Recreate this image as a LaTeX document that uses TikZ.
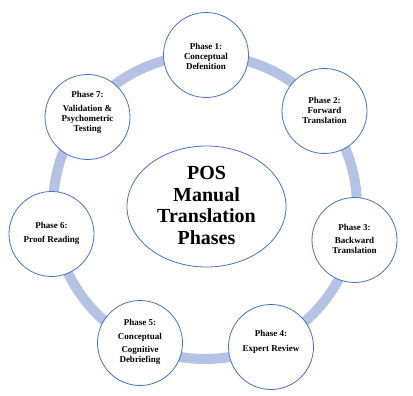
\documentclass[tikz,border=0pt]{standalone}
\usepackage{fontspec}
\setmainfont{Liberation Serif}
\usetikzlibrary{shapes.geometric}
\definecolor{ringc}{HTML}{B4C2E4}
\definecolor{edgec}{HTML}{4472C4}
\tikzset{
  ringband/.style={draw=ringc, line width=10pt},
  phasecircle/.style={circle, draw=edgec, line width=0.8pt, fill=white, minimum size=85pt, inner sep=0pt},
  phasetext/.style={align=center, font=\fontsize{9}{10}\selectfont\bfseries, inner sep=0pt},
  hubshape/.style={ellipse, draw=edgec, line width=0.8pt, fill=white, minimum width=159pt, minimum height=121pt, inner sep=0pt},
  hubtext/.style={align=center, font=\fontsize{20}{21.5}\selectfont\bfseries, inner sep=0pt}
}
\begin{document}
\begin{tikzpicture}[x=1pt, y=-1pt]
\useasboundingbox (0,0) rectangle (413,396);
\coordinate (rc) at (205,207);
\draw[ringband] (rc) circle[radius=152pt];
\node[phasecircle] (p1) at (206,55) {};
\node[phasecircle] (p2) at (324.5,111) {};
\node[phasecircle] (p3) at (354.5,240) {};
\node[phasecircle] (p4) at (271,347) {};
\node[phasecircle] (p5) at (140,343) {};
\node[phasecircle] (p6) at (51.5,234) {};
\node[phasecircle] (p7) at (87.5,117) {};
\node[phasetext] (t1) at ([yshift=-1pt]p1.center) {Phase 1:\\Conceptual\\Defenition};
\node[phasetext] (t2) at ([yshift=1pt]p2.center) {Phase 2:\\Forward\\Translation};
\node[phasetext] (t3) at ([yshift=1pt]p3.center) {Phase 3:\\[3.5pt]Backward\\Translation};
\node[phasetext] (t4) at ([yshift=5pt]p4.center) {Phase 4:\\[5pt]Expert Review};
\node[phasetext] (t5) at ([yshift=1pt]p5.center) {Phase 5:\\[4pt]Conceptual\\[3pt]Cognitive\\Debriefing};
\node[phasetext] (t6) at ([yshift=1pt]p6.center) {Phase 6:\\[4pt]Proof Reading};
\node[phasetext] (t7) at ([yshift=5pt]p7.center) {Phase 7:\\[4pt]Validation \&\\Psychometric\\Testing};
\node[hubshape] (hub) at (206.5,206.5) {};
\node[hubtext] (ht) at ([yshift=1pt]hub.center) {POS\\Manual\\Translation\\Phases};
\end{tikzpicture}
\end{document}
